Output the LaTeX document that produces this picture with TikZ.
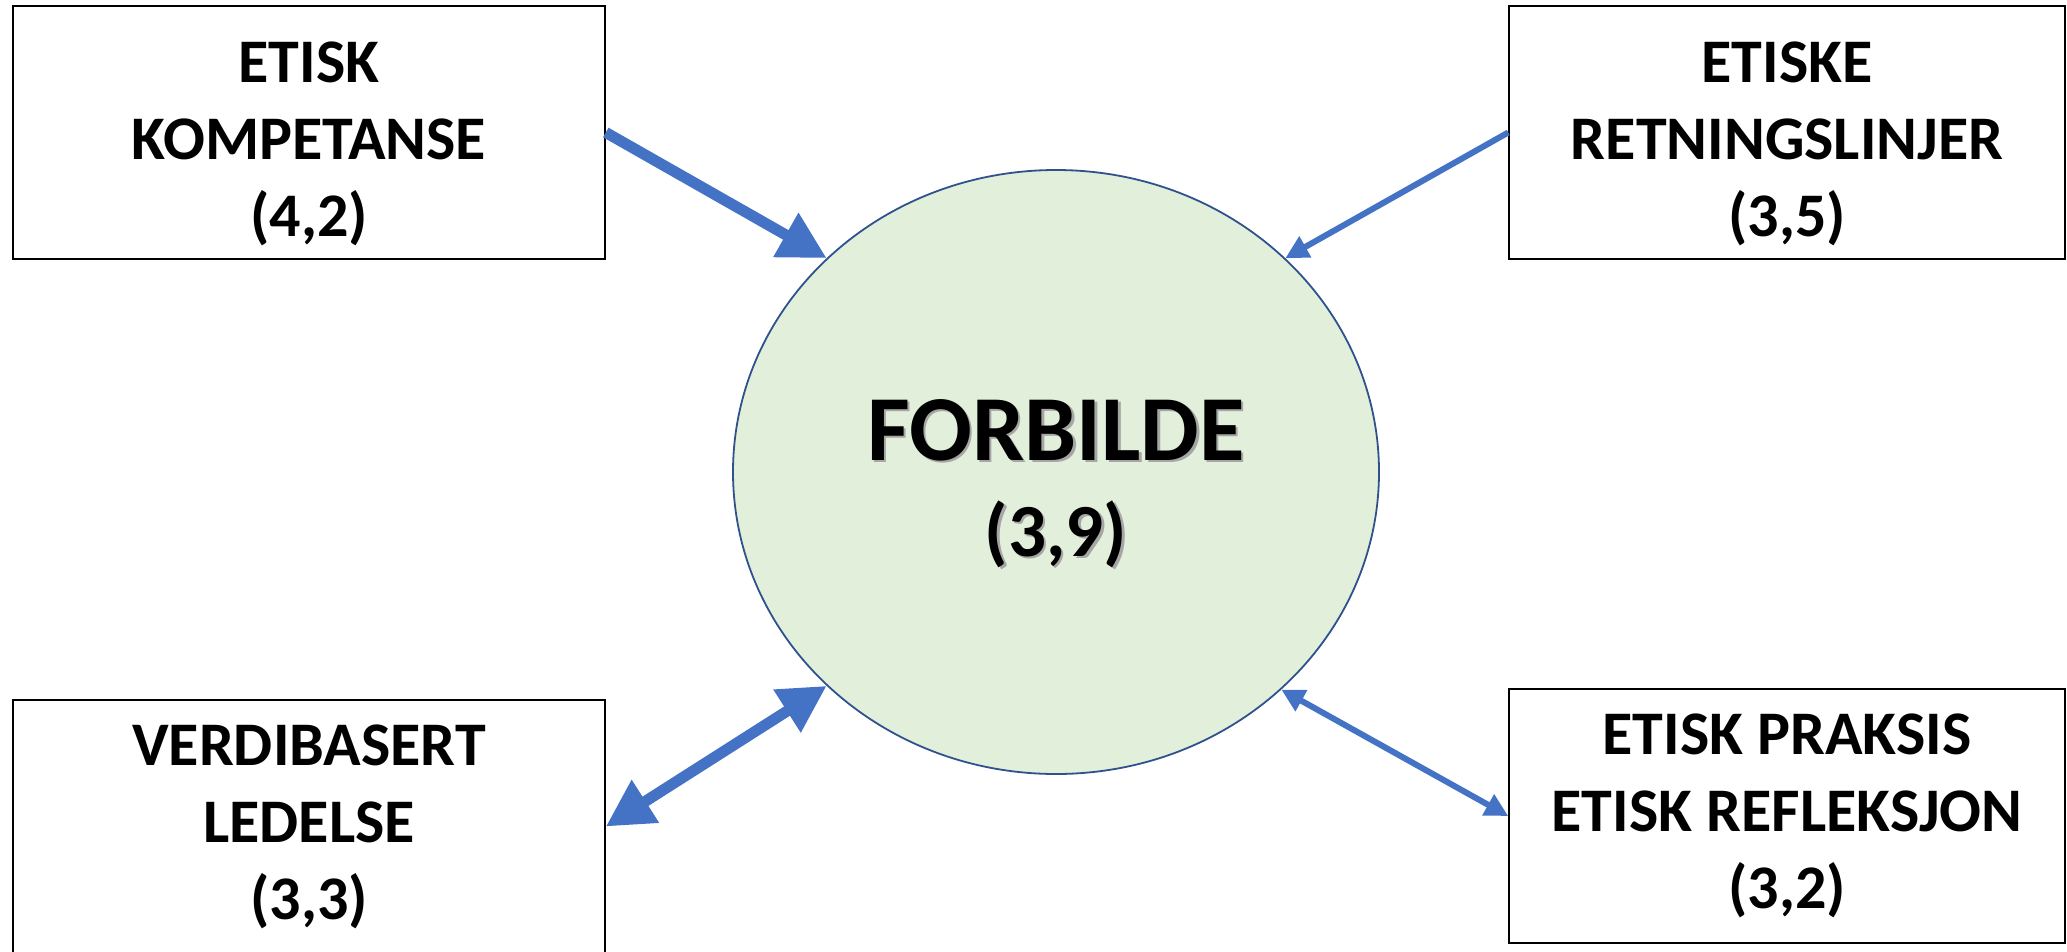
\documentclass[tikz,border=0pt]{standalone}
\usepackage{fontspec}
\setmainfont{Carlito}
\usetikzlibrary{arrows.meta,shapes.geometric}
\definecolor{arrowblue}{HTML}{4472C4}
\definecolor{ellfill}{HTML}{E2EFDA}
\definecolor{elldraw}{HTML}{2F528F}
\newcommand{\shadtxt}[1]{\makebox[0pt][l]{\hspace{2.5pt}\raisebox{-2.5pt}{\color{black!35}#1}}#1}
\newcommand{\lowerfirst}{\rule{0pt}{64pt}}
\tikzset{
  infobox/.style={draw=black, line width=1.6pt, fill=white, inner sep=0pt, align=center,
    font=\fontsize{62}{77}\selectfont\bfseries},
  thickarrow/.style={draw=arrowblue, line width=11pt, -{Triangle[length=47pt,width=48pt]}},
  thickdouble/.style={draw=arrowblue, line width=11pt, {Triangle[length=47pt,width=48pt]}-{Triangle[length=47pt,width=48pt]}},
  thinarrow/.style={draw=arrowblue, line width=6pt, -{Triangle[length=23pt,width=23pt]}},
  thindouble/.style={draw=arrowblue, line width=6pt, {Triangle[length=23pt,width=23pt]}-{Triangle[length=23pt,width=23pt]}},
  centertitle/.style={anchor=base, inner sep=0pt, font=\fontsize{93}{95}\selectfont\bfseries},
  centervalue/.style={anchor=base, inner sep=0pt, font=\fontsize{75}{90}\selectfont\bfseries},
}
\begin{document}
\begin{tikzpicture}[x=1pt,y=-1pt]
\useasboundingbox (0,0) rectangle (2067,951);
\clip (0,0) rectangle (2067,951);
\node[ellipse, draw=elldraw, line width=1.8pt, fill=ellfill, minimum width=646pt, minimum height=604pt, inner sep=0pt] (forbilde) at (1056,472) {};
\node[centertitle] (ftitle) at (1056,460) {\shadtxt{FORBILDE}};
\node[centervalue] (fvalue) at (1056,556) {\shadtxt{(3,9)}};

\node[infobox, minimum width=592pt, minimum height=253pt] (tl) at (309,132.5) {\lowerfirst ETISK\\KOMPETANSE\\(4,2)};
\node[infobox, minimum width=556pt, minimum height=253pt] (tr) at (1787,132.5) {\lowerfirst ETISKE\\RETNINGSLINJER\\(3,5)};
\node[infobox, minimum width=592pt, minimum height=253pt] (bl) at (309,826.5) {VERDIBASERT\\LEDELSE\\(3,3)};
\node[infobox, minimum width=556pt, minimum height=254pt] (br) at (1787,816) {ETISK PRAKSIS\\ETISK REFLEKSJON\\(3,2)};

\draw[thickarrow] (tl.east) -- (forbilde.137);
\draw[thinarrow] (tr.west) -- (forbilde.43);
\draw[thickdouble] (bl.east) -- (forbilde.223);
\draw[thindouble] (br.west) -- (forbilde.316.7);
\end{tikzpicture}
\end{document}
